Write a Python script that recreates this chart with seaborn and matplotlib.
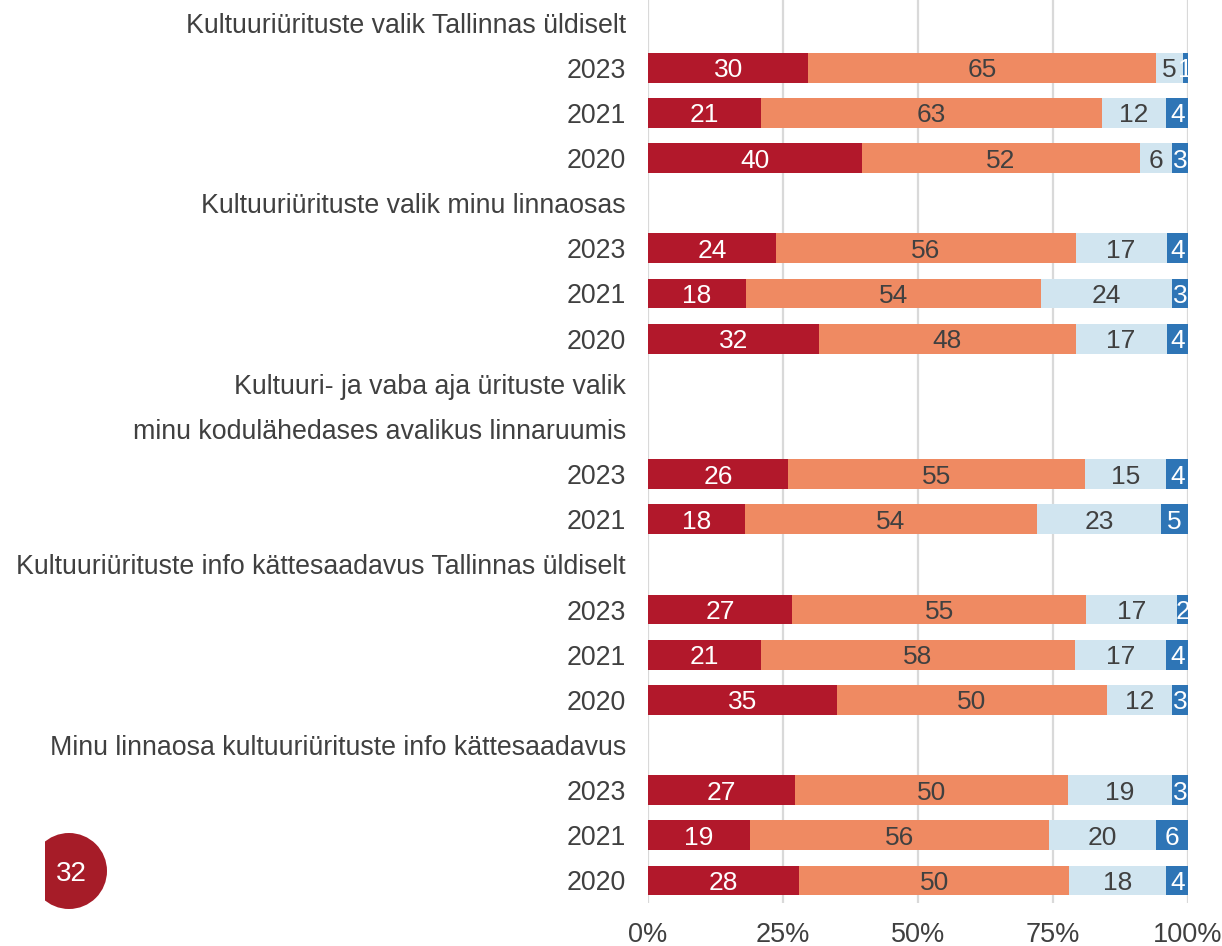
import numpy as np
import pandas as pd
import matplotlib
matplotlib.use("Agg")
import matplotlib.pyplot as plt
from matplotlib.patches import Ellipse
from matplotlib.transforms import IdentityTransform, Bbox
import seaborn as sns

nan = np.nan
row_labels = [
    "Kultuuriürituste valik Tallinnas üldiselt", "2023", "2021", "2020",
    "Kultuuriürituste valik minu linnaosas", "2023", "2021", "2020",
    "Kultuuri- ja vaba aja ürituste valik", "minu kodulähedases avalikus linnaruumis", "2023", "2021",
    "Kultuuriürituste info kättesaadavus Tallinnas üldiselt", "2023", "2021", "2020",
    "Minu linnaosa kultuuriürituste info kättesaadavus", "2023", "2021", "2020",
]
very_satisfied = [nan, 30, 21, 40, nan, 24, 18, 32, nan, nan, 26, 18, nan, 27, 21, 35, nan, 27, 19, 28]
rather_satisfied = [nan, 65, 63, 52, nan, 56, 54, 48, nan, nan, 55, 54, nan, 55, 58, 50, nan, 50, 56, 50]
rather_dissatisfied = [nan, 5, 12, 6, nan, 17, 24, 17, nan, nan, 15, 23, nan, 17, 17, 12, nan, 19, 20, 18]
very_dissatisfied = [nan, 1, 4, 3, nan, 4, 3, 4, nan, nan, 4, 5, nan, 2, 4, 3, nan, 3, 6, 4]
tick_labels = ["0%", "25%", "50%", "75%", "100%"]
page_number = "32"

series = [very_satisfied, rather_satisfied, rather_dissatisfied, very_dissatisfied]
colors = ["#b2182b", "#ef8a62", "#d1e5f0", "#2e75b6"]
text_colors = ["white", "#404040", "#404040", "white"]

sns.set_theme(style="white")
plt.rcParams["font.family"] = ["Liberation Sans", "DejaVu Sans"]

vals = np.array(series, dtype=float)  # shape (4, n)
totals = np.nansum(vals, axis=0)
totals[totals == 0] = np.nan
pct = vals / totals * 100
cum = np.cumsum(pct, axis=0)

ids = [f"r{i}" for i in range(len(row_labels))]
df = pd.DataFrame({"row": ids})
for k in range(4):
    df[f"cum{k}"] = cum[k]

fig = plt.figure(figsize=(12.22, 9.46), dpi=100)
ax = fig.add_axes([648 / 1222, 1 - 903 / 946, 540 / 1222, 903 / 946])

for k in range(3, -1, -1):
    sub = df.dropna(subset=[f"cum{k}"])
    sns.barplot(data=sub, y="row", x=f"cum{k}", order=ids, orient="h",
                color=colors[k], saturation=1, width=0.66, errorbar=None,
                linewidth=0, edgecolor="none", ax=ax, zorder=2)

# value labels
for k in range(4):
    start = cum[k] - pct[k]
    for i in range(len(ids)):
        if np.isnan(vals[k, i]):
            continue
        ax.text(start[i] + pct[k, i] / 2, i, f"{int(vals[k, i])}",
                ha="center", va="center_baseline", fontsize=19,
                color=text_colors[k], zorder=3)

ax.set_xlim(0, 100)
ax.set_ylim(len(ids) - 0.5, -0.5)
ax.set_xticks([0, 25, 50, 75, 100])
ax.set_xticklabels(tick_labels)
ax.set_yticks(range(len(ids)))
ax.set_yticklabels(row_labels)
ax.set_xlabel("")
ax.set_ylabel("")
for lab in ax.get_yticklabels():
    lab.set_fontsize(19.3)
    lab.set_color("#404040")
for lab in ax.get_xticklabels():
    lab.set_fontsize(19.5)
    lab.set_color("#404040")
ax.tick_params(axis="y", length=0, pad=16)
ax.tick_params(axis="x", length=0, pad=14)
ax.xaxis.grid(True, color="#d9d9d9", lw=1.6, zorder=0)
ax.yaxis.grid(False)
ax.set_axisbelow(True)
for s in ax.spines.values():
    s.set_visible(False)

# page number badge (clipped at the left like the source)
badge = Ellipse((69, 946 - 871), 76, 76, facecolor="#a61c28", edgecolor="none", zorder=5)
badge.set_transform(IdentityTransform())
badge.set_clip_box(Bbox.from_extents(45, 0, 1222, 946))
badge.set_clip_on(True)
fig.patches.append(badge)
fig.text(71 / 1222, 1 - 871 / 946, page_number, ha="center", va="center_baseline",
         fontsize=20, color="white", zorder=7)

fig.savefig("out.png", dpi=100)
